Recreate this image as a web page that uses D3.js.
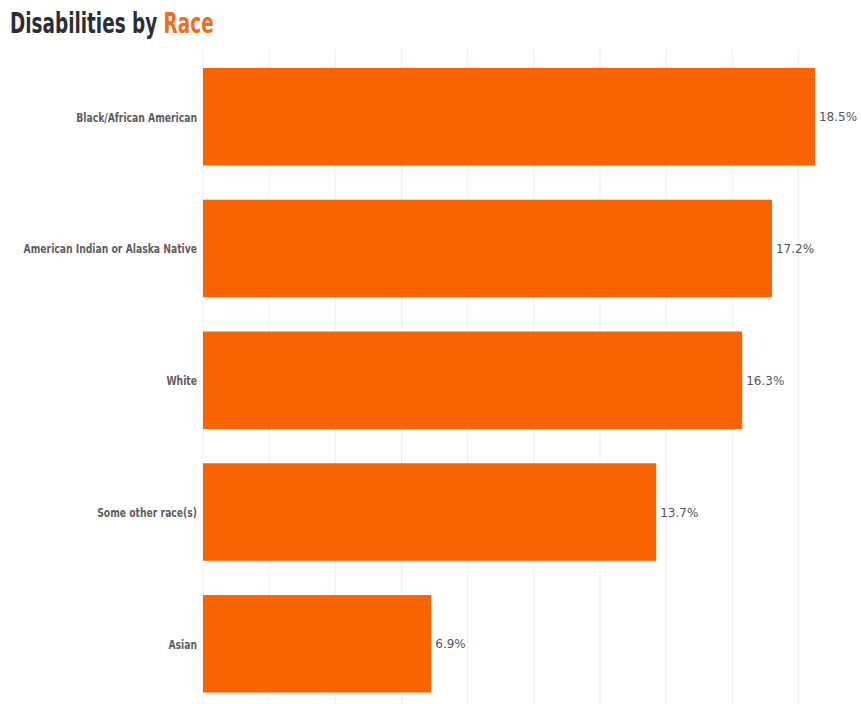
<!DOCTYPE html>
<html>
<head>
<meta charset="utf-8">
<script src="https://cdn.jsdelivr.net/npm/d3@7"></script>
<style>
  html, body { margin: 0; padding: 0; background: #ffffff; }
  svg { display: block; }
</style>
</head>
<body>
<svg id="chart" width="861" height="704"></svg>
<script>
// Share of people reporting a disability, by race (%)
const categories = [
  "Black/African American",
  "American Indian or Alaska Native",
  "White",
  "Some other race(s)",
  "Asian"
];
const values = [18.5, 17.2, 16.3, 13.7, 6.9];
const gridTicks = [0, 2, 4, 6, 8, 10, 12, 14, 16, 18, 20];

const svg = d3.select("#chart");
const W = 861, H = 704;
const margin = { left: 203, top: 49.5 };
const pxPerUnit = 33.08;

const x = d3.scaleLinear()
  .domain([0, 20])
  .range([margin.left, margin.left + 20 * pxPerUnit]);

const y = d3.scaleBand()
  .domain(categories)
  .range([margin.top, 711])
  .paddingInner(0.26)
  .paddingOuter(0.14);

// Narrow display face, emulated by squeezing DejaVu Sans Bold horizontally
const narrow = "'DejaVu Sans', sans-serif";

// Title
const title = svg.append("text")
  .attr("transform", "translate(10,33) scale(0.635,1)")
  .style("font-family", narrow)
  .style("font-weight", "bold")
  .style("font-size", "29px");
title.append("tspan").attr("fill", "#2b2e35").text("Disabilities by ");
title.append("tspan").attr("fill", "#f26c1a").text("Race");

// Vertical grid lines
svg.append("g")
  .selectAll("line")
  .data(gridTicks)
  .join("line")
  .attr("x1", d => x(d))
  .attr("x2", d => x(d))
  .attr("y1", margin.top)
  .attr("y2", H)
  .attr("stroke", "#ececec")
  .attr("stroke-width", 1);

// Bars
svg.append("g")
  .selectAll("rect")
  .data(categories)
  .join("rect")
  .attr("x", x(0))
  .attr("y", d => y(d))
  .attr("width", (d, i) => x(values[i]) - x(0))
  .attr("height", y.bandwidth())
  .attr("fill", "#fa6400");

// Category labels
svg.append("g")
  .selectAll("text")
  .data(categories)
  .join("text")
  .attr("transform", d => `translate(${x(0) - 6},${y(d) + y.bandwidth() / 2 + 5}) scale(0.71,1)`)
  .attr("text-anchor", "end")
  .attr("fill", "#5e5e5e")
  .style("font-family", narrow)
  .style("font-weight", "bold")
  .style("font-size", "13px")
  .text(d => d);

// Value labels
svg.append("g")
  .selectAll("text")
  .data(categories)
  .join("text")
  .attr("x", (d, i) => x(values[i]) + 4)
  .attr("y", d => y(d) + y.bandwidth() / 2 + 4.5)
  .attr("fill", "#555555")
  .style("font-family", "'DejaVu Sans', sans-serif")
  .style("font-size", "12px")
  .text((d, i) => values[i].toFixed(1) + "%");
</script>
</body>
</html>
